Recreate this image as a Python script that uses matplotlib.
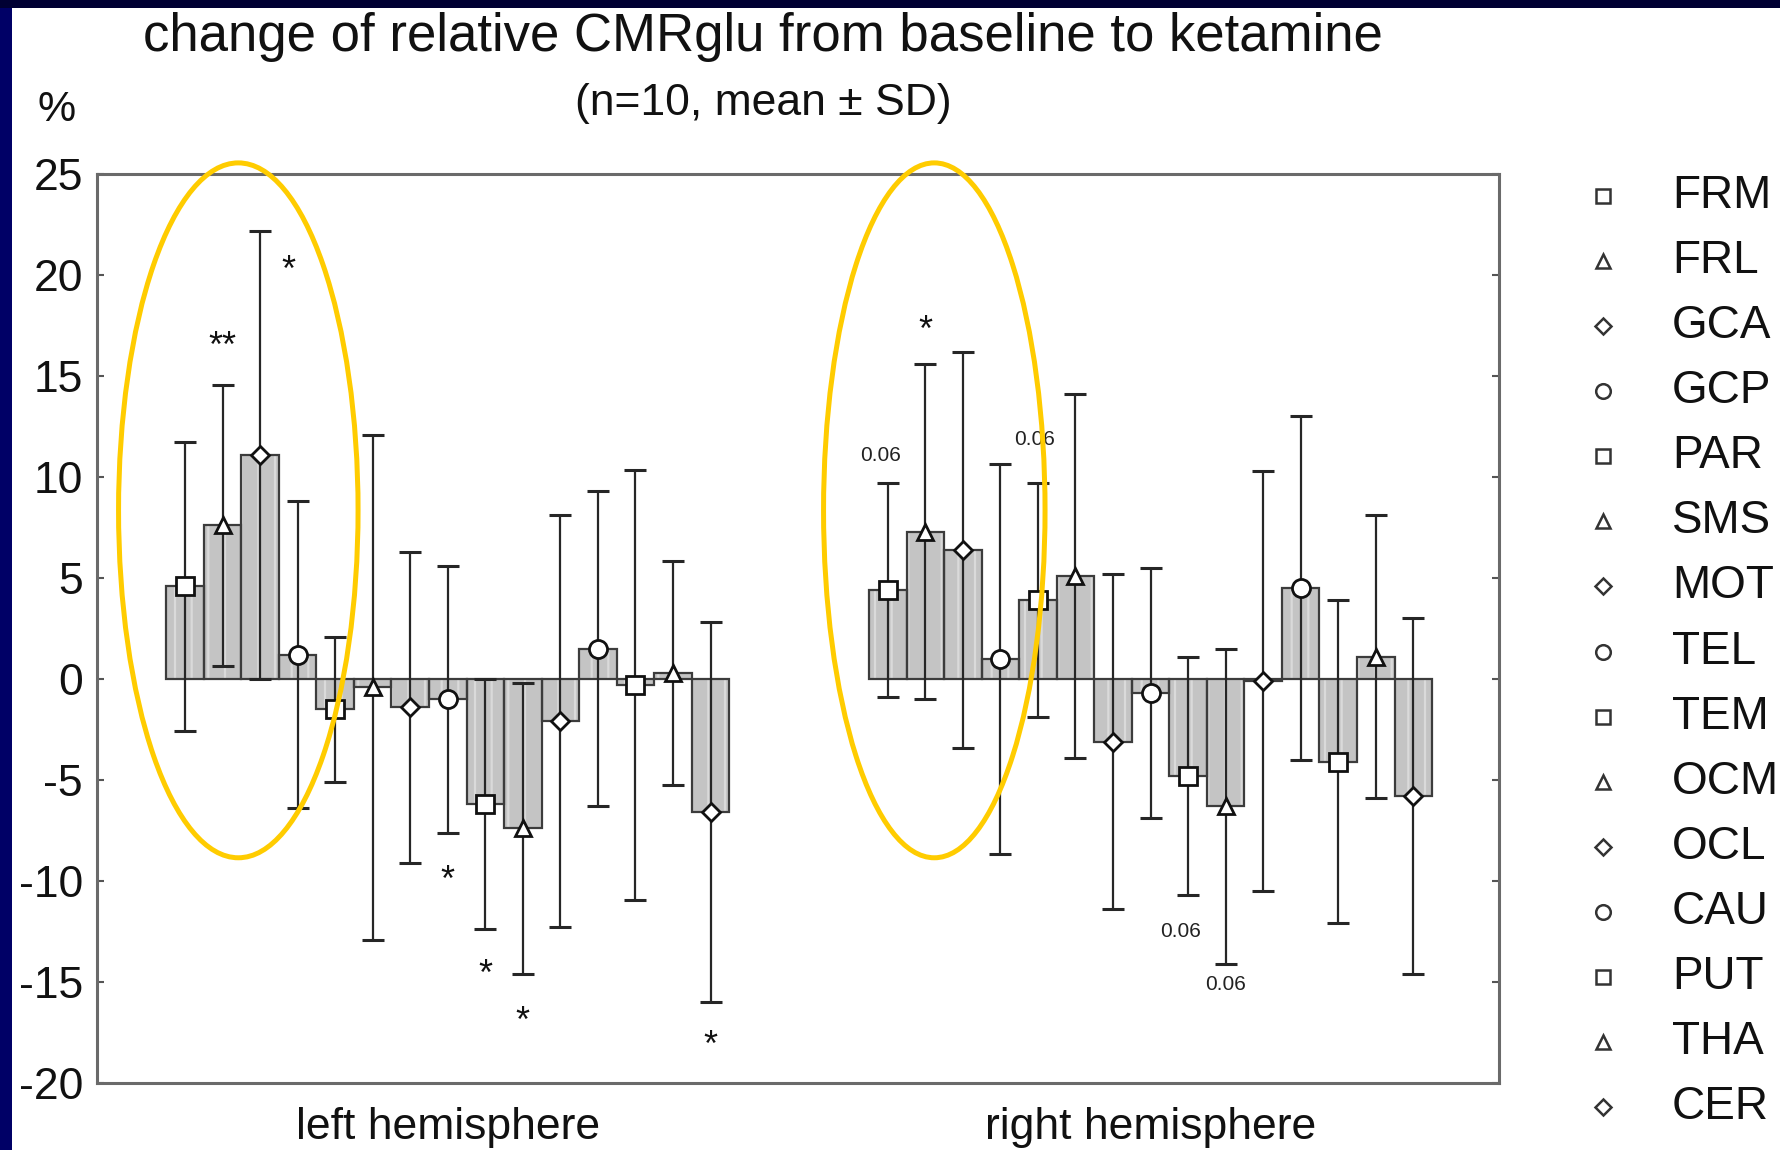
import matplotlib
matplotlib.use('Agg')
import matplotlib.pyplot as plt
from matplotlib.patches import Ellipse, Rectangle
import numpy as np

plt.rcParams['font.family'] = ['Liberation Sans', 'DejaVu Sans']
plt.rcParams['hatch.linewidth'] = 1.6

# ---------------- data ----------------
regions = ['FRM', 'FRL', 'GCA', 'GCP', 'PAR', 'SMS', 'MOT', 'TEL',
           'TEM', 'OCM', 'OCL', 'CAU', 'PUT', 'THA', 'CER']
region_markers = ['s', '^', 'D', 'o', 's', '^', 'D', 'o',
                  's', '^', 'D', 'o', 's', '^', 'D']

left_mean = [4.6, 7.6, 11.1, 1.2, -1.5, -0.4, -1.4, -1.0,
             -6.2, -7.4, -2.1, 1.5, -0.3, 0.3, -6.6]
left_sd = [7.15, 6.95, 11.1, 7.6, 3.6, 12.5, 7.7, 6.6,
           6.2, 7.2, 10.2, 7.8, 10.65, 5.55, 9.4]

right_mean = [4.4, 7.3, 6.4, 1.0, 3.9, 5.1, -3.1, -0.7,
              -4.8, -6.3, -0.1, 4.5, -4.1, 1.1, -5.8]
right_sd = [5.3, 8.3, 9.8, 9.65, 5.8, 9.0, 8.3, 6.2,
            5.9, 7.8, 10.4, 8.5, 8.0, 7.0, 8.8]

group_labels = ['left hemisphere', 'right hemisphere']
yticks = [-20, -15, -10, -5, 0, 5, 10, 15, 20, 25]

# significance annotations: (group, region index, text, y value)
annotations = [
    (0, 1, '**', 17.0), (0, 2, '*', 20.8), (0, 7, '*', -9.4),
    (0, 8, '*', -14.1), (0, 9, '*', -16.4), (0, 14, '*', -17.6),
    (1, 1, '*', 17.8), (1, 0, '0.06', 11.06), (1, 4, '0.06', 11.85),
    (1, 8, '0.06', -12.5), (1, 9, '0.06', -15.1),
]
# highlighted regions (group, first index, last index)
highlights = [(0, 0, 2), (1, 0, 2)]

# ---------------- figure ----------------
W, H = 1780, 1150
fig = plt.figure(figsize=(W / 100, H / 100), dpi=100)
fig.patch.set_facecolor('white')
# dark blue slide frame
fig.patches.append(Rectangle((0, 0), 12 / W, 1, transform=fig.transFigure,
                             facecolor='#000066', edgecolor='none', zorder=0))
fig.patches.append(Rectangle((0, 1 - 8 / H), 1, 8 / H, transform=fig.transFigure,
                             facecolor='#000033', edgecolor='none', zorder=0))

ax_l, ax_r, ax_t, ax_b = 97, 1499, 174, 1083
ax = fig.add_axes([ax_l / W, 1 - ax_b / H, (ax_r - ax_l) / W, (ax_b - ax_t) / H])

group_offset = [0.0, 18.72]
means = [left_mean, right_mean]
sds = [left_sd, right_sd]

for g in range(2):
    x = np.arange(len(regions)) + group_offset[g]
    # stippled fill
    ax.bar(x, means[g], width=1.0, color='#c4c4c4', edgecolor='#dadada',
           hatch='|', linewidth=0, zorder=2)
    # outline
    ax.bar(x, means[g], width=1.0, fill=False, edgecolor='#3c3c3c',
           linewidth=1.6, zorder=2.5)
    ax.errorbar(x, means[g], yerr=sds[g], fmt='none', ecolor='#262626',
                elinewidth=1.6, capsize=8, capthick=2.2, zorder=3)
    for xi, m, mk in zip(x, means[g], region_markers):
        ms = 13 if mk in ('s', 'o') else (12 if mk == '^' else 9)
        ax.plot(xi, m, marker=mk, markersize=ms, markerfacecolor='white',
                markeredgecolor='#111111', markeredgewidth=2.0, zorder=4,
                linestyle='none')

for g, i, txt, yv in annotations:
    xi = i + group_offset[g]
    if txt.startswith('*'):
        dx = 0.75 if (g == 0 and i == 2) else 0.0
        ax.text(xi + dx, yv - 0.6, txt, ha='center', va='center',
                fontsize=26, color='#111111', zorder=5)
    else:
        dx = -0.2 if i in (0, 8) else 0.0
        dx = -0.1 if i == 4 else dx
        ax.text(xi + dx, yv, txt, ha='center', va='center', fontsize=15,
                color='#222222', zorder=5)

for g, i0, i1 in highlights:
    xc = (i0 + i1) / 2 + group_offset[g] + (0.42 if g == 0 else 0.24)
    wd = 6.38 if g == 0 else 5.9
    e = Ellipse((xc, 8.35), wd, 34.4, fill=False, edgecolor='#FFCC00',
                linewidth=3.6, clip_on=False, zorder=10)
    ax.add_patch(e)

xmin = (ax_l - 185) / 37.54
xmax = (ax_r - 185) / 37.54
ax.set_xlim(xmin, xmax)
ax.set_ylim(-20, 25)
ax.set_yticks(yticks)
ax.set_yticklabels([str(t) for t in yticks], fontsize=32, color='#111111')
ax.set_xticks([7 + group_offset[0], 7 + group_offset[1]])
ax.set_xticklabels(group_labels, fontsize=32, color='#111111')
ax.tick_params(axis='x', length=0, pad=17)
ax.tick_params(axis='y', direction='in', length=5, width=1.5, color='#555555',
               left=True, right=True, pad=10)
for s in ax.spines.values():
    s.set_color('#6a6a6a')
    s.set_linewidth(2.2)

# titles
fig.text(763 / W, 1 - 37 / H, 'change of relative CMRglu from baseline to ketamine',
         ha='center', va='center', fontsize=38, color='#111111')
fig.text(763 / W, 1 - 104 / H, '(n=10, mean \u00b1 SD)',
         ha='center', va='center', fontsize=32, color='#111111')
fig.text(57 / W, 1 - 110 / H, '%', ha='center', va='center', fontsize=31,
         color='#111111')

# legend
top_px, bot_px = 196, 1107
step = (bot_px - top_px) / (len(regions) - 1)
lax = fig.add_axes([1560 / W, 1 - (bot_px + step / 2) / H, 220 / W,
                    (bot_px - top_px + step) / H])
lax.set_xlim(1560, 1780)
lax.set_ylim(len(regions) - 0.5, -0.5)
lax.axis('off')
for i, (name, mk) in enumerate(zip(regions, region_markers)):
    ms = 10.5 if mk in ('s', 'o') else (10.5 if mk == '^' else 8)
    lax.plot(1603, i, marker=mk, markersize=ms, markerfacecolor='white',
             markeredgecolor='#333333', markeredgewidth=1.8, linestyle='none')
    lax.text(1672, i, name, ha='left', va='center', fontsize=33,
             color='#111111')

fig.savefig('out.png', dpi=100)
